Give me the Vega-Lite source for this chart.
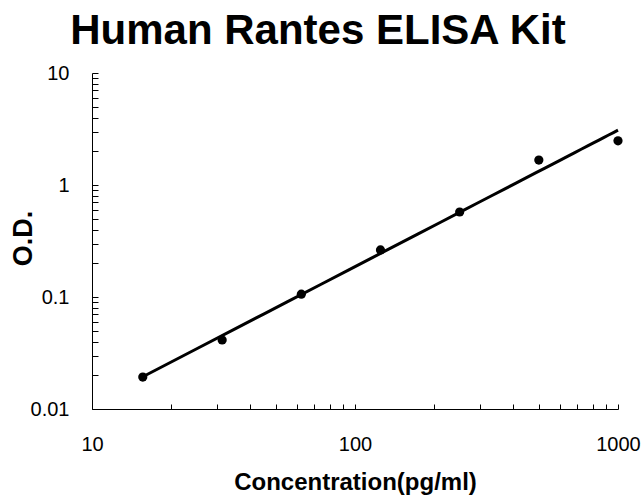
{
  "$schema": "https://vega.github.io/schema/vega-lite/v6.json",
  "width": 526,
  "height": 336,
  "autosize": "none",
  "padding": {"left": 92, "top": 73, "right": 25, "bottom": 91},
  "background": "white",
  "config": {
    "view": {"stroke": null},
    "font": "Liberation Sans",
    "axis": {"grid": false, "domainColor": "black", "tickColor": "black", "labelColor": "black", "titleColor": "black", "labelFont": "Liberation Sans", "titleFont": "Liberation Sans"}
  },
  "title": {
    "text": "Human Rantes ELISA Kit",
    "font": "Liberation Sans",
    "fontSize": 42,
    "fontWeight": "bold",
    "color": "black",
    "anchor": "middle",
    "dx": -37,
    "offset": 10
  },
  "data": {
    "values": [
      {"conc": 15.6, "od": 0.0193},
      {"conc": 31.25, "od": 0.0413},
      {"conc": 62.5, "od": 0.106},
      {"conc": 125, "od": 0.263},
      {"conc": 250, "od": 0.574},
      {"conc": 500, "od": 1.67},
      {"conc": 1000, "od": 2.48}
    ]
  },
  "encoding": {
    "x": {
      "field": "conc",
      "type": "quantitative",
      "scale": {"type": "log", "domain": [10, 1000], "nice": false},
      "axis": {
        "title": "Concentration(pg/ml)",
        "titleFontSize": 24,
        "titleFontWeight": "bold",
        "titlePadding": 16,
        "labelFontSize": 20,
        "labelFontWeight": "normal",
        "labelPadding": 30,
        "tickSize": -5,
        "values": [10, 20, 30, 40, 50, 60, 70, 80, 90, 100, 200, 300, 400, 500, 600, 700, 800, 900, 1000],
        "format": "~g",
        "labelExpr": "indexof([10, 100, 1000], datum.value) >= 0 ? datum.label : ''",
        "labelFlush": false,
        "labelOverlap": false
      }
    },
    "y": {
      "field": "od",
      "type": "quantitative",
      "scale": {"type": "log", "domain": [0.01, 10], "nice": false},
      "axis": {
        "title": "O.D.",
        "titleFontSize": 27,
        "titleFontWeight": "bold",
        "titleX": -69,
        "titleY": 165,
        "titleAngle": -90,
        "titleAlign": "center",
        "titleBaseline": "middle",
        "labelFontSize": 20,
        "labelPadding": 29,
        "tickSize": -6,
        "values": [0.01, 0.02, 0.03, 0.04, 0.05, 0.06, 0.07, 0.08, 0.09, 0.1, 0.2, 0.3, 0.4, 0.5, 0.6, 0.7, 0.8, 0.9, 1, 2, 3, 4, 5, 6, 7, 8, 9, 10],
        "format": "~g",
        "labelExpr": "indexof([0.01, 0.1, 1, 10], datum.value) >= 0 ? datum.label : ''",
        "labelOverlap": false,
        "labelFlush": false
      }
    }
  },
  "layer": [
    {
      "mark": {"type": "line", "color": "black", "strokeWidth": 3},
      "transform": [{"regression": "od", "on": "conc", "method": "pow"}]
    },
    {
      "mark": {"type": "point", "filled": true, "color": "black", "opacity": 1, "size": 85}
    }
  ]
}
